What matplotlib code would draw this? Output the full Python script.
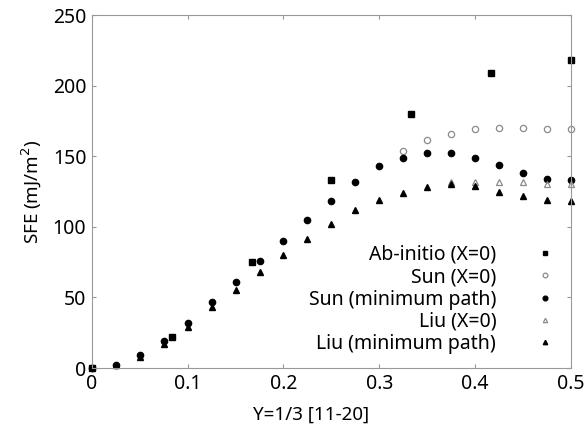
import numpy as np
import matplotlib
matplotlib.use("Agg")
import matplotlib.pyplot as plt

plt.rcParams['font.family'] = ['Noto Sans', 'DejaVu Sans']

# Ab-initio (X=0)
abinit_x = [0.0, 0.0833, 0.1667, 0.25, 0.3333, 0.4167, 0.5]
abinit_y = [0, 22, 75, 133, 180, 209, 218]

# Sun (X=0)
sun0_x = [0.325, 0.35, 0.375, 0.4, 0.425, 0.45, 0.475, 0.5]
sun0_y = [153.5, 161.5, 166, 169, 170, 170, 169.5, 169]

# Sun (minimum path)
sunmin_x = [0.0, 0.025, 0.05, 0.075, 0.1, 0.125, 0.15, 0.175, 0.2, 0.225, 0.25,
            0.275, 0.3, 0.325, 0.35, 0.375, 0.4, 0.425, 0.45, 0.475, 0.5]
sunmin_y = [0, 2, 9, 19, 32, 47, 61, 76, 90, 104.5, 118.5,
            131.5, 143, 149, 152, 152, 148.5, 143.5, 138, 134, 133]

# Liu (X=0)
liu0_x = [0.375, 0.4, 0.425, 0.45, 0.475, 0.5]
liu0_y = [131.5, 132, 132, 131.5, 130.5, 130]

# Liu (minimum path)
liumin_x = [0.025, 0.05, 0.075, 0.1, 0.125, 0.15, 0.175, 0.2, 0.225, 0.25,
            0.275, 0.3, 0.325, 0.35, 0.375, 0.4, 0.425, 0.45, 0.475, 0.5]
liumin_y = [2, 8, 17, 29, 43, 55, 68, 80, 91.5, 102,
            112, 119, 124, 128.5, 130.5, 129, 125, 122, 119, 118]

fig = plt.figure(figsize=(5.85, 4.29), dpi=100)
ax = fig.add_axes([0.157, 0.142, 0.819, 0.823])

grey = '#8a8a8a'
ax.plot(abinit_x, abinit_y, 's', color='black', ms=4, label='Ab-initio (X=0)', clip_on=False)
ax.plot(sun0_x, sun0_y, 'o', mfc='none', mec=grey, mew=0.9, ms=4.5, label='Sun (X=0)', clip_on=False)
ax.plot(sunmin_x, sunmin_y, 'o', color='black', ms=4.5, label='Sun (minimum path)', clip_on=False)
ax.plot(liu0_x, liu0_y, '^', mfc='none', mec=grey, mew=0.9, ms=4.2, label='Liu (X=0)', clip_on=False)
ax.plot(liumin_x, liumin_y, '^', color='black', ms=4.2, label='Liu (minimum path)', clip_on=False)

ax.set_xlim(0, 0.5)
ax.set_ylim(0, 250)
ax.set_xticks([0, 0.1, 0.2, 0.3, 0.4, 0.5])
ax.set_xticklabels(['0', '0.1', '0.2', '0.3', '0.4', '0.5'])
ax.set_yticks([0, 50, 100, 150, 200, 250])
for s in ax.spines.values():
    s.set_color('#999999')
ax.tick_params(direction='in', length=3, color='#999999', top=True, right=True,
               labelsize=14, pad=4)
ax.set_xlabel('Y=1/3 [11-20]', fontsize=13.5)
ax.xaxis.set_label_coords(0.458, -0.133)
ax.xaxis.label.set_va('center')
ax.set_ylabel('SFE (mJ/m$^2$)', fontsize=13.5, labelpad=6)

ax.legend(loc='lower right', bbox_to_anchor=(0.982, 0.017), frameon=False,
          markerfirst=False, markerscale=0.75, fontsize=14, handletextpad=2.0,
          handlelength=1.0, labelspacing=0.12, borderaxespad=0)
for t in ax.get_legend().get_texts():
    t.set_ha('right')
leg = ax.get_legend()
leg._legend_box.align = 'right'

fig.savefig('out.png', dpi=100)
